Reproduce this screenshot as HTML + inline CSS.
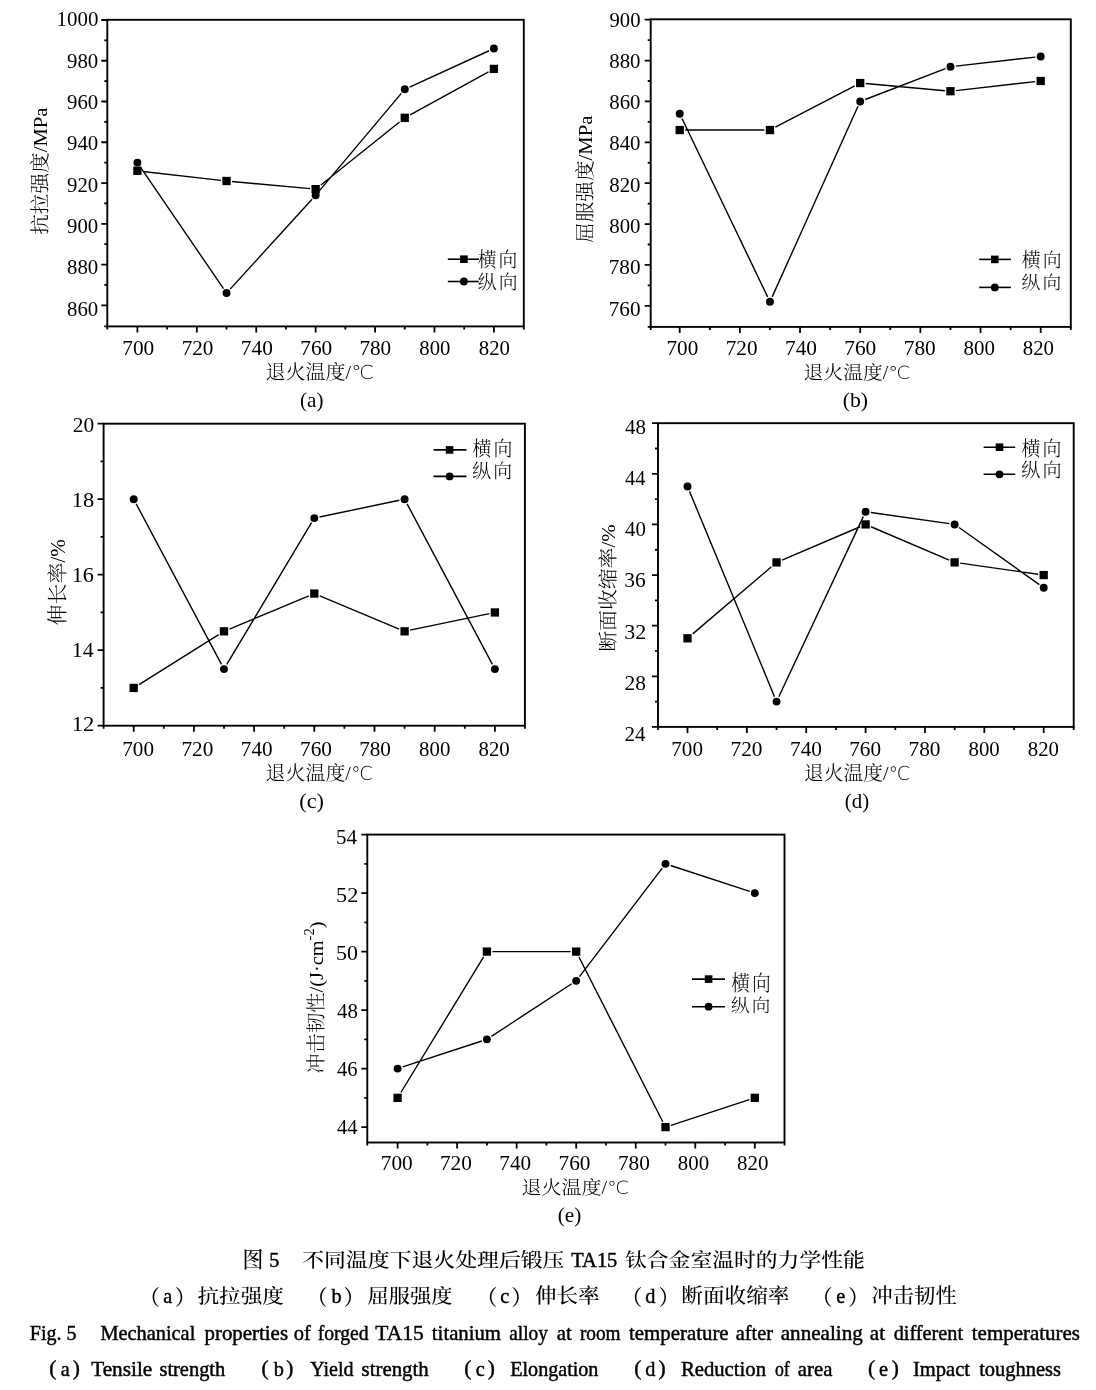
<!DOCTYPE html>
<html><head><meta charset="utf-8"><style>
html,body{margin:0;padding:0;background:#fff;}
svg{display:block;will-change:transform;}
text{fill:#000;}
</style></head><body>
<svg width="1096" height="1390" viewBox="0 0 1096 1390">
<rect x="107.3" y="19.8" width="416.5" height="306.6" fill="none" stroke="#000" stroke-width="1.9"/>
<path d="M107.3 326.4v3M137.4 326.4v6M167.11 326.4v3M196.82 326.4v6M226.53 326.4v3M256.23 326.4v6M285.94 326.4v3M315.65 326.4v6M345.36 326.4v3M375.07 326.4v6M404.77 326.4v3M434.48 326.4v6M464.19 326.4v3M493.9 326.4v6M523.8 326.4v3M107.3 326.4h-3M107.3 305.3h-6M107.3 284.92h-3M107.3 264.54h-6M107.3 244.16h-3M107.3 223.79h-6M107.3 203.41h-3M107.3 183.03h-6M107.3 162.65h-3M107.3 142.27h-6M107.3 121.89h-3M107.3 101.51h-6M107.3 81.14h-3M107.3 60.76h-6M107.3 40.38h-3M107.3 20h-6" stroke="#000" stroke-width="1.8" fill="none"/>
<path d="M142.94 171.43L220.98 180.36M232.07 181.5L310.11 188.64M320.89 184.95L399.53 122.01M410.15 114.87L488.52 71.86M140.42 167.07L223.51 288.66M230.13 289.12L312.05 199.21M319.09 191.16L401.33 93.38M409.64 87.06L489.03 50.75" fill="none" stroke="#000" stroke-width="1.4"/>
<rect x="133.25" y="166.65" width="8.3" height="8.3"/>
<rect x="222.38" y="176.84" width="8.3" height="8.3"/>
<rect x="311.5" y="184.99" width="8.3" height="8.3"/>
<rect x="400.62" y="113.67" width="8.3" height="8.3"/>
<rect x="489.75" y="64.76" width="8.3" height="8.3"/>
<circle cx="137.4" cy="162.65" r="3.95"/>
<circle cx="226.53" cy="293.07" r="3.95"/>
<circle cx="315.65" cy="195.26" r="3.95"/>
<circle cx="404.77" cy="89.29" r="3.95"/>
<circle cx="493.9" cy="48.53" r="3.95"/>
<path d="M447.8 259.2H478.8" stroke="#000" stroke-width="1.6"/>
<rect x="460.1" y="255.4" width="7.6" height="7.6"/>
<path d="M447.8 281.5H478.8" stroke="#000" stroke-width="1.6"/>
<circle cx="463.9" cy="281.5" r="3.9"/>
<rect x="650.7" y="19.3" width="420.1" height="307.6" fill="none" stroke="#000" stroke-width="1.9"/>
<path d="M650.7 326.9v3M679.7 326.9v6M709.78 326.9v3M739.87 326.9v6M769.95 326.9v3M800.03 326.9v6M830.12 326.9v3M860.2 326.9v6M890.28 326.9v3M920.37 326.9v6M950.45 326.9v3M980.53 326.9v6M1010.62 326.9v3M1040.7 326.9v6M1070.8 326.9v3M650.7 326.9h-3M650.7 305.8h-6M650.7 285.36h-3M650.7 264.93h-6M650.7 244.49h-3M650.7 224.06h-6M650.7 203.62h-3M650.7 183.19h-6M650.7 162.75h-3M650.7 142.31h-6M650.7 121.88h-3M650.7 101.44h-6M650.7 81.01h-3M650.7 60.57h-6M650.7 40.14h-3M650.7 19.7h-6" stroke="#000" stroke-width="1.8" fill="none"/>
<path d="M685.25 130.05L764.4 130.05M775.34 127.24L854.81 85.86M865.74 83.55L944.91 90.72M955.99 90.6L1035.16 81.63M682.02 118.53L767.63 296.89M772.15 296.84L858 106.32M865.19 99.52L945.46 68.62M955.77 66.1L1035.38 57.09" fill="none" stroke="#000" stroke-width="1.4"/>
<rect x="675.55" y="125.9" width="8.3" height="8.3"/>
<rect x="765.8" y="125.9" width="8.3" height="8.3"/>
<rect x="856.05" y="78.9" width="8.3" height="8.3"/>
<rect x="946.3" y="87.08" width="8.3" height="8.3"/>
<rect x="1036.55" y="76.86" width="8.3" height="8.3"/>
<circle cx="679.7" cy="113.7" r="3.95"/>
<circle cx="769.95" cy="301.71" r="3.95"/>
<circle cx="860.2" cy="101.44" r="3.95"/>
<circle cx="950.45" cy="66.7" r="3.95"/>
<circle cx="1040.7" cy="56.48" r="3.95"/>
<path d="M979.2 259.4H1010.9" stroke="#000" stroke-width="1.6"/>
<rect x="991" y="255.6" width="7.6" height="7.6"/>
<path d="M979.2 287.4H1010.9" stroke="#000" stroke-width="1.6"/>
<circle cx="994.8" cy="287.4" r="3.9"/>
<rect x="103.6" y="423.7" width="421.3" height="302" fill="none" stroke="#000" stroke-width="1.9"/>
<path d="M103.6 725.7v3M133.7 725.7v6M163.8 725.7v3M193.9 725.7v6M224 725.7v3M254.1 725.7v6M284.2 725.7v3M314.3 725.7v6M344.4 725.7v3M374.5 725.7v6M404.6 725.7v3M434.7 725.7v6M464.8 725.7v3M494.9 725.7v6M524.9 725.7v3M103.6 725.7h-6M103.6 687.95h-3M103.6 650.2h-6M103.6 612.45h-3M103.6 574.7h-6M103.6 536.95h-3M103.6 499.2h-6M103.6 461.45h-3M103.6 423.7h-6" stroke="#000" stroke-width="1.8" fill="none"/>
<path d="M139.04 684.6L218.66 634.67M229.44 629.05L308.86 595.85M319.74 595.85L399.16 629.05M410.12 630.17L489.38 613.6M136.21 503.92L221.49 664.35M226.75 664.48L311.55 522.67M319.54 516.98L399.36 500.29M407.11 503.92L492.39 664.35" fill="none" stroke="#000" stroke-width="1.4"/>
<rect x="129.55" y="683.8" width="8.3" height="8.3"/>
<rect x="219.85" y="627.18" width="8.3" height="8.3"/>
<rect x="310.15" y="589.43" width="8.3" height="8.3"/>
<rect x="400.45" y="627.18" width="8.3" height="8.3"/>
<rect x="490.75" y="608.3" width="8.3" height="8.3"/>
<circle cx="133.7" cy="499.2" r="3.95"/>
<circle cx="224" cy="669.08" r="3.95"/>
<circle cx="314.3" cy="518.08" r="3.95"/>
<circle cx="404.6" cy="499.2" r="3.95"/>
<circle cx="494.9" cy="669.08" r="3.95"/>
<path d="M433.5 449.9H466.4" stroke="#000" stroke-width="1.6"/>
<rect x="445.8" y="446.1" width="7.6" height="7.6"/>
<path d="M433.5 476.4H466.4" stroke="#000" stroke-width="1.6"/>
<circle cx="449.6" cy="476.4" r="3.9"/>
<rect x="658" y="423.2" width="415.7" height="303.7" fill="none" stroke="#000" stroke-width="1.9"/>
<path d="M658 726.9v3M687.5 726.9v6M717.18 726.9v3M746.87 726.9v6M776.55 726.9v3M806.23 726.9v6M835.92 726.9v3M865.6 726.9v6M895.28 726.9v3M924.97 726.9v6M954.65 726.9v3M984.33 726.9v6M1014.02 726.9v3M1043.7 726.9v6M1073.7 726.9v3M658 726.9h-6M658 701.59h-3M658 676.28h-6M658 650.97h-3M658 625.67h-6M658 600.36h-3M658 575.05h-6M658 549.74h-3M658 524.43h-6M658 499.12h-3M658 473.82h-6M658 448.51h-3M658 423.2h-6" stroke="#000" stroke-width="1.8" fill="none"/>
<path d="M692.72 633.87L771.33 566.84M781.99 560.08L860.16 526.75M871.04 526.75L949.21 560.08M960.19 563.18L1038.16 574.26M689.55 491.41L774.5 696.65M778.82 696.75L863.33 516.62M870.9 512.53L949.35 523.68M959.01 527.53L1039.34 584.61" fill="none" stroke="#000" stroke-width="1.4"/>
<rect x="683.35" y="634.17" width="8.3" height="8.3"/>
<rect x="772.4" y="558.25" width="8.3" height="8.3"/>
<rect x="861.45" y="520.28" width="8.3" height="8.3"/>
<rect x="950.5" y="558.25" width="8.3" height="8.3"/>
<rect x="1039.55" y="570.9" width="8.3" height="8.3"/>
<circle cx="687.5" cy="486.47" r="3.95"/>
<circle cx="776.55" cy="701.59" r="3.95"/>
<circle cx="865.6" cy="511.78" r="3.95"/>
<circle cx="954.65" cy="524.43" r="3.95"/>
<circle cx="1043.7" cy="587.7" r="3.95"/>
<path d="M983.6 447.2H1015.2" stroke="#000" stroke-width="1.6"/>
<rect x="995.7" y="443.4" width="7.6" height="7.6"/>
<path d="M983.6 474.3H1015.2" stroke="#000" stroke-width="1.6"/>
<circle cx="999.5" cy="474.3" r="3.9"/>
<rect x="367.3" y="834.6" width="417.2" height="307.9" fill="none" stroke="#000" stroke-width="1.9"/>
<path d="M367.3 1142.5v3M397.6 1142.5v6M427.37 1142.5v3M457.13 1142.5v6M486.9 1142.5v3M516.67 1142.5v6M546.43 1142.5v3M576.2 1142.5v6M605.97 1142.5v3M635.73 1142.5v6M665.5 1142.5v3M695.27 1142.5v6M725.03 1142.5v3M754.8 1142.5v6M784.5 1142.5v3M367.3 1127.1h-6M367.3 1097.85h-3M367.3 1068.6h-6M367.3 1039.35h-3M367.3 1010.1h-6M367.3 980.85h-3M367.3 951.6h-6M367.3 922.35h-3M367.3 893.1h-6M367.3 863.85h-3M367.3 834.6h-6" stroke="#000" stroke-width="1.8" fill="none"/>
<path d="M400.86 1092.51L483.64 956.94M492.45 951.6L570.65 951.6M578.95 957L662.75 1121.7M670.98 1125.3L749.32 1099.65M402.68 1066.93L481.82 1041.02M491.38 1036.42L571.72 983.78M579.45 976.6L662.25 868.1M670.58 865.52L749.72 891.43" fill="none" stroke="#000" stroke-width="1.4"/>
<rect x="393.45" y="1093.7" width="8.3" height="8.3"/>
<rect x="482.75" y="947.45" width="8.3" height="8.3"/>
<rect x="572.05" y="947.45" width="8.3" height="8.3"/>
<rect x="661.35" y="1122.95" width="8.3" height="8.3"/>
<rect x="750.65" y="1093.7" width="8.3" height="8.3"/>
<circle cx="397.6" cy="1068.6" r="3.95"/>
<circle cx="486.9" cy="1039.35" r="3.95"/>
<circle cx="576.2" cy="980.85" r="3.95"/>
<circle cx="665.5" cy="863.85" r="3.95"/>
<circle cx="754.8" cy="893.1" r="3.95"/>
<path d="M692 979.1H725" stroke="#000" stroke-width="1.6"/>
<rect x="704.8" y="975.3" width="7.6" height="7.6"/>
<path d="M692 1006.7H725" stroke="#000" stroke-width="1.6"/>
<circle cx="708.6" cy="1006.7" r="3.9"/>
<text transform="translate(56.5 26.25) scale(0.9882 1)" style='font-family:"Liberation Serif", serif;font-size:21.19px'>1000</text>
<text transform="translate(67 67.54) scale(0.9823 1)" style='font-family:"Liberation Serif", serif;font-size:21.19px'>980</text>
<text transform="translate(67 109.07) scale(0.9823 1)" style='font-family:"Liberation Serif", serif;font-size:21.19px'>960</text>
<text transform="translate(67 150.36) scale(0.9823 1)" style='font-family:"Liberation Serif", serif;font-size:21.19px'>940</text>
<text transform="translate(67 191.64) scale(0.9823 1)" style='font-family:"Liberation Serif", serif;font-size:21.19px'>920</text>
<text transform="translate(67 233.18) scale(0.9823 1)" style='font-family:"Liberation Serif", serif;font-size:21.19px'>900</text>
<text transform="translate(67 274.46) scale(0.9830 1)" style='font-family:"Liberation Serif", serif;font-size:21.19px'>880</text>
<text transform="translate(67 315.75) scale(0.9830 1)" style='font-family:"Liberation Serif", serif;font-size:21.19px'>860</text>
<text transform="translate(122.25 355) scale(1.0073 1)" style='font-family:"Liberation Serif", serif;font-size:21.19px'>700</text>
<text x="181.67" y="355" style='font-family:"Liberation Serif", serif;font-size:21.19px'>720</text>
<text transform="translate(240.83 355) scale(1.0076 1)" style='font-family:"Liberation Serif", serif;font-size:21.19px'>740</text>
<text transform="translate(300.25 355) scale(1.0077 1)" style='font-family:"Liberation Serif", serif;font-size:21.19px'>760</text>
<text x="359.42" y="355" style='font-family:"Liberation Serif", serif;font-size:21.19px'>780</text>
<text transform="translate(419.33 355) scale(0.9782 1)" style='font-family:"Liberation Serif", serif;font-size:21.19px'>800</text>
<text transform="translate(478.75 355) scale(0.9826 1)" style='font-family:"Liberation Serif", serif;font-size:21.19px'>820</text>
<text transform="translate(265.5 379.06) scale(1.0392 1)" style='font-family:"Liberation Serif", "Noto Serif CJK SC", serif;font-size:19.27px;font-weight:300'>退火温度/<tspan font-family="DejaVu Sans, sans-serif" font-weight="200">℃</tspan></text>
<text transform="translate(300 407) scale(1.0285 1)" style='font-family:"Liberation Serif", serif;font-size:20.55px'>(a)</text>
<text transform="translate(47.17 234.75) rotate(-90) scale(1.0717 1)" style='font-family:"Liberation Serif", "Noto Serif CJK SC", serif;font-size:19.25px;font-weight:300'>抗拉强度/MPa</text>
<text transform="translate(477.75 266.85) scale(0.9083 1)" style='font-family:"Liberation Serif", "Noto Serif CJK SC", serif;font-size:20.72px;font-weight:300;letter-spacing:2.2px'>横向</text>
<text transform="translate(477.75 288.6) scale(0.9612 1)" style='font-family:"Liberation Serif", "Noto Serif CJK SC", serif;font-size:19.57px;font-weight:300;letter-spacing:2.2px'>纵向</text>
<text transform="translate(609.5 26.5) scale(0.9745 1)" style='font-family:"Liberation Serif", serif;font-size:21.19px'>900</text>
<text transform="translate(609.25 67.82) scale(0.9833 1)" style='font-family:"Liberation Serif", serif;font-size:21.19px'>880</text>
<text transform="translate(609.25 109.14) scale(0.9833 1)" style='font-family:"Liberation Serif", serif;font-size:21.19px'>860</text>
<text transform="translate(609.25 150.46) scale(0.9833 1)" style='font-family:"Liberation Serif", serif;font-size:21.19px'>840</text>
<text transform="translate(609.25 191.79) scale(0.9833 1)" style='font-family:"Liberation Serif", serif;font-size:21.19px'>820</text>
<text transform="translate(609.25 233.11) scale(0.9833 1)" style='font-family:"Liberation Serif", serif;font-size:21.19px'>800</text>
<text x="608.75" y="274.43" style='font-family:"Liberation Serif", serif;font-size:21.19px'>780</text>
<text x="608.75" y="315.75" style='font-family:"Liberation Serif", serif;font-size:21.19px'>760</text>
<text transform="translate(666.5 355) scale(0.9988 1)" style='font-family:"Liberation Serif", serif;font-size:21.19px'>700</text>
<text x="725.75" y="355" style='font-family:"Liberation Serif", serif;font-size:21.19px'>720</text>
<text transform="translate(785 355) scale(1.0073 1)" style='font-family:"Liberation Serif", serif;font-size:21.19px'>740</text>
<text transform="translate(844.25 355) scale(1.0075 1)" style='font-family:"Liberation Serif", serif;font-size:21.19px'>760</text>
<text transform="translate(903.75 355) scale(1.0073 1)" style='font-family:"Liberation Serif", serif;font-size:21.19px'>780</text>
<text transform="translate(963.5 355) scale(0.9878 1)" style='font-family:"Liberation Serif", serif;font-size:21.19px'>800</text>
<text transform="translate(1022.75 355) scale(0.9833 1)" style='font-family:"Liberation Serif", serif;font-size:21.19px'>820</text>
<text transform="translate(803.5 378.82) scale(1.0862 1)" style='font-family:"Liberation Serif", "Noto Serif CJK SC", serif;font-size:18.26px;font-weight:300'>退火温度/<tspan font-family="DejaVu Sans, sans-serif" font-weight="200">℃</tspan></text>
<text transform="translate(842.75 406.75) scale(1.0624 1)" style='font-family:"Liberation Serif", serif;font-size:20.49px'>(b)</text>
<text transform="translate(591.93 243) rotate(-90) scale(1.0440 1)" style='font-family:"Liberation Serif", "Noto Serif CJK SC", serif;font-size:19.79px;font-weight:300'>屈服强度/MPa</text>
<text transform="translate(1021.75 266.6) scale(0.9645 1)" style='font-family:"Liberation Serif", "Noto Serif CJK SC", serif;font-size:19.57px;font-weight:300;letter-spacing:2.2px'>横向</text>
<text transform="translate(1021.5 288.6) scale(1.0118 1)" style='font-family:"Liberation Serif", "Noto Serif CJK SC", serif;font-size:18.63px;font-weight:300;letter-spacing:2.2px'>纵向</text>
<text transform="translate(72.75 432.25) scale(1.0107 1)" style='font-family:"Liberation Serif", serif;font-size:21.19px'>20</text>
<text transform="translate(71.75 506.75) scale(1.0526 1)" style='font-family:"Liberation Serif", serif;font-size:21.19px'>18</text>
<text transform="translate(71.75 581.5) scale(1.0507 1)" style='font-family:"Liberation Serif", serif;font-size:21.19px'>16</text>
<text transform="translate(71.75 656.5) scale(1.0170 1)" style='font-family:"Liberation Serif", serif;font-size:21.57px'>14</text>
<text transform="translate(71.75 731) scale(1.0528 1)" style='font-family:"Liberation Serif", serif;font-size:21.56px'>12</text>
<text x="122.25" y="755.5" style='font-family:"Liberation Serif", serif;font-size:21.19px'>700</text>
<text transform="translate(181.42 755.5) scale(1.0063 1)" style='font-family:"Liberation Serif", serif;font-size:21.19px'>720</text>
<text x="240.83" y="755.5" style='font-family:"Liberation Serif", serif;font-size:21.19px'>740</text>
<text transform="translate(300 755.5) scale(1.0073 1)" style='font-family:"Liberation Serif", serif;font-size:21.19px'>760</text>
<text x="359.17" y="755.5" style='font-family:"Liberation Serif", serif;font-size:21.19px'>780</text>
<text transform="translate(419.08 755.5) scale(0.9835 1)" style='font-family:"Liberation Serif", serif;font-size:21.19px'>800</text>
<text transform="translate(478.5 755.5) scale(0.9830 1)" style='font-family:"Liberation Serif", serif;font-size:21.19px'>820</text>
<text transform="translate(265.5 779.57) scale(1.0583 1)" style='font-family:"Liberation Serif", "Noto Serif CJK SC", serif;font-size:18.88px;font-weight:300'>退火温度/<tspan font-family="DejaVu Sans, sans-serif" font-weight="200">℃</tspan></text>
<text transform="translate(299.25 808.25) scale(1.0727 1)" style='font-family:"Liberation Serif", serif;font-size:20.78px'>(c)</text>
<text transform="translate(65.15 625.5) rotate(-90) scale(1.0385 1)" style='font-family:"Liberation Serif", "Noto Serif CJK SC", serif;font-size:20.23px;font-weight:300'>伸长率/%</text>
<text transform="translate(472.5 456.1) scale(0.9300 1)" style='font-family:"Liberation Serif", "Noto Serif CJK SC", serif;font-size:20.34px;font-weight:300;letter-spacing:2.2px'>横向</text>
<text transform="translate(472.25 478.1) scale(1.0055 1)" style='font-family:"Liberation Serif", "Noto Serif CJK SC", serif;font-size:18.8px;font-weight:300;letter-spacing:2.2px'>纵向</text>
<text transform="translate(625 434) scale(0.9862 1)" style='font-family:"Liberation Serif", serif;font-size:21.19px'>48</text>
<text transform="translate(625 485.25) scale(0.9270 1)" style='font-family:"Liberation Serif", serif;font-size:21.95px'>44</text>
<text transform="translate(625 536.25) scale(0.9862 1)" style='font-family:"Liberation Serif", serif;font-size:21.19px'>40</text>
<text transform="translate(624.25 587.25) scale(1.0112 1)" style='font-family:"Liberation Serif", serif;font-size:21.19px'>36</text>
<text transform="translate(624.25 638.5) scale(1.0410 1)" style='font-family:"Liberation Serif", serif;font-size:21.19px'>32</text>
<text transform="translate(624.5 689.75) scale(1.0110 1)" style='font-family:"Liberation Serif", serif;font-size:21.19px'>28</text>
<text transform="translate(624.5 741) scale(0.9739 1)" style='font-family:"Liberation Serif", serif;font-size:21.56px'>24</text>
<text transform="translate(671.25 755.5) scale(0.9988 1)" style='font-family:"Liberation Serif", serif;font-size:21.19px'>700</text>
<text transform="translate(730.5 755.5) scale(1.0073 1)" style='font-family:"Liberation Serif", serif;font-size:21.19px'>720</text>
<text transform="translate(790 755.5) scale(1.0073 1)" style='font-family:"Liberation Serif", serif;font-size:21.19px'>740</text>
<text x="849.25" y="755.5" style='font-family:"Liberation Serif", serif;font-size:21.19px'>760</text>
<text transform="translate(908.5 755.5) scale(1.0073 1)" style='font-family:"Liberation Serif", serif;font-size:21.19px'>780</text>
<text transform="translate(968.5 755.5) scale(0.9830 1)" style='font-family:"Liberation Serif", serif;font-size:21.19px'>800</text>
<text transform="translate(1027.75 755.5) scale(0.9826 1)" style='font-family:"Liberation Serif", serif;font-size:21.19px'>820</text>
<text transform="translate(804 779.57) scale(1.0457 1)" style='font-family:"Liberation Serif", "Noto Serif CJK SC", serif;font-size:18.88px;font-weight:300'>退火温度/<tspan font-family="DejaVu Sans, sans-serif" font-weight="200">℃</tspan></text>
<text transform="translate(844.75 808) scale(0.9796 1)" style='font-family:"Liberation Serif", serif;font-size:21.34px'>(d)</text>
<text transform="translate(614.5 651.75) rotate(-90) scale(1.0809 1)" style='font-family:"Liberation Serif", "Noto Serif CJK SC", serif;font-size:19.3px;font-weight:300'>断面收缩率/%</text>
<text transform="translate(1021.5 456.35) scale(0.9246 1)" style='font-family:"Liberation Serif", "Noto Serif CJK SC", serif;font-size:20.5px;font-weight:300;letter-spacing:2.2px'>横向</text>
<text transform="translate(1021.25 477.35) scale(1.0070 1)" style='font-family:"Liberation Serif", "Noto Serif CJK SC", serif;font-size:18.97px;font-weight:300;letter-spacing:2.2px'>纵向</text>
<text transform="translate(336 844.25) scale(0.9782 1)" style='font-family:"Liberation Serif", serif;font-size:21.56px'>54</text>
<text transform="translate(336 902) scale(1.0514 1)" style='font-family:"Liberation Serif", serif;font-size:21.19px'>52</text>
<text transform="translate(336 960) scale(1.0355 1)" style='font-family:"Liberation Serif", serif;font-size:21.19px'>50</text>
<text transform="translate(337 1018) scale(0.9861 1)" style='font-family:"Liberation Serif", serif;font-size:21.19px'>48</text>
<text transform="translate(337 1075.75) scale(0.9732 1)" style='font-family:"Liberation Serif", serif;font-size:21.19px'>46</text>
<text transform="translate(337 1134) scale(0.9264 1)" style='font-family:"Liberation Serif", serif;font-size:21.95px'>44</text>
<text transform="translate(380.75 1170.25) scale(1.0073 1)" style='font-family:"Liberation Serif", serif;font-size:21.19px'>700</text>
<text transform="translate(439.92 1170.25) scale(1.0062 1)" style='font-family:"Liberation Serif", serif;font-size:21.19px'>720</text>
<text x="499.33" y="1170.25" style='font-family:"Liberation Serif", serif;font-size:21.19px'>740</text>
<text transform="translate(558.5 1170.25) scale(1.0062 1)" style='font-family:"Liberation Serif", serif;font-size:21.19px'>760</text>
<text transform="translate(617.92 1170.25) scale(1.0061 1)" style='font-family:"Liberation Serif", serif;font-size:21.19px'>780</text>
<text transform="translate(677.83 1170.25) scale(0.9828 1)" style='font-family:"Liberation Serif", serif;font-size:21.19px'>800</text>
<text transform="translate(737 1170.25) scale(0.9877 1)" style='font-family:"Liberation Serif", serif;font-size:21.19px'>820</text>
<text transform="translate(521.5 1193.82) scale(1.0765 1)" style='font-family:"Liberation Serif", "Noto Serif CJK SC", serif;font-size:18.57px;font-weight:300'>退火温度/<tspan font-family="DejaVu Sans, sans-serif" font-weight="200">℃</tspan></text>
<text transform="translate(557.75 1222.25) scale(1.0267 1)" style='font-family:"Liberation Serif", serif;font-size:20.76px'>(e)</text>
<text transform="translate(322.57 1073.75) rotate(-90) scale(1.0815 1)" style='font-family:"Liberation Serif", "Noto Serif CJK SC", serif;font-size:18.81px;font-weight:300'>冲击韧性/(J·cm<tspan dy="-8.5" font-size="0.72em">-2</tspan><tspan dy="8.5">)</tspan></text>
<text transform="translate(731.25 990.35) scale(0.8962 1)" style='font-family:"Liberation Serif", "Noto Serif CJK SC", serif;font-size:20.89px;font-weight:300;letter-spacing:2.2px'>横向</text>
<text transform="translate(731 1012.35) scale(1.0259 1)" style='font-family:"Liberation Serif", "Noto Serif CJK SC", serif;font-size:18.13px;font-weight:300;letter-spacing:2.2px'>纵向</text>
<text transform="translate(242.5 1266.78) scale(0.9781 1)" style='font-family:"Liberation Serif", "Noto Serif CJK SC", serif;font-size:21.35px;font-weight:300;font-weight:500'>图</text>
<text transform="translate(269.25 1266.5) scale(0.9891 1)" style='font-family:"Liberation Serif", serif;font-size:20.38px;stroke:#000;stroke-width:0.45px'>5</text>
<text transform="translate(302.25 1267.03) scale(1.1369 1)" style='font-family:"Liberation Serif", "Noto Serif CJK SC", serif;font-size:19.23px;font-weight:300;font-weight:500'>不同温度下退火处理后锻压</text>
<text transform="translate(571.25 1266.5) scale(0.9701 1)" style='font-family:"Liberation Serif", serif;font-size:21.11px;stroke:#000;stroke-width:0.45px'>TA15</text>
<text transform="translate(625 1267.03) scale(1.1344 1)" style='font-family:"Liberation Serif", "Noto Serif CJK SC", serif;font-size:19.23px;font-weight:300;font-weight:500'>钛合金室温时的力学性能</text>
<text x="138.85" y="1305.03" style='font-family:"Liberation Serif", "Noto Serif CJK SC", serif;font-size:21.38px;font-weight:300;font-weight:500'>（</text>
<text x="163.25" y="1302.5" style='font-family:"Liberation Serif", serif;font-size:20.3px;stroke:#000;stroke-width:0.45px'>a</text>
<text x="174.65" y="1305.03" style='font-family:"Liberation Serif", "Noto Serif CJK SC", serif;font-size:21.38px;font-weight:300;font-weight:500'>）</text>
<text transform="translate(197.5 1303.28) scale(1.0948 1)" style='font-family:"Liberation Serif", "Noto Serif CJK SC", serif;font-size:19.73px;font-weight:300;font-weight:500'>抗拉强度</text>
<text x="306.35" y="1305.03" style='font-family:"Liberation Serif", "Noto Serif CJK SC", serif;font-size:21.38px;font-weight:300;font-weight:500'>（</text>
<text x="331.5" y="1302.5" style='font-family:"Liberation Serif", serif;font-size:20.3px;stroke:#000;stroke-width:0.45px'>b</text>
<text x="343.4" y="1305.03" style='font-family:"Liberation Serif", "Noto Serif CJK SC", serif;font-size:21.38px;font-weight:300;font-weight:500'>）</text>
<text transform="translate(367.5 1303.28) scale(1.0768 1)" style='font-family:"Liberation Serif", "Noto Serif CJK SC", serif;font-size:19.72px;font-weight:300;font-weight:500'>屈服强度</text>
<text x="476.1" y="1305.03" style='font-family:"Liberation Serif", "Noto Serif CJK SC", serif;font-size:21.38px;font-weight:300;font-weight:500'>（</text>
<text x="500.25" y="1302.5" style='font-family:"Liberation Serif", serif;font-size:20.3px;stroke:#000;stroke-width:0.45px'>c</text>
<text x="511.15" y="1305.03" style='font-family:"Liberation Serif", "Noto Serif CJK SC", serif;font-size:21.38px;font-weight:300;font-weight:500'>）</text>
<text transform="translate(535 1303.03) scale(1.0695 1)" style='font-family:"Liberation Serif", "Noto Serif CJK SC", serif;font-size:20.15px;font-weight:300;font-weight:500'>伸长率</text>
<text x="621.1" y="1305.03" style='font-family:"Liberation Serif", "Noto Serif CJK SC", serif;font-size:21.38px;font-weight:300;font-weight:500'>（</text>
<text x="645.25" y="1302.5" style='font-family:"Liberation Serif", serif;font-size:20.3px;stroke:#000;stroke-width:0.45px'>d</text>
<text x="658.4" y="1305.03" style='font-family:"Liberation Serif", "Noto Serif CJK SC", serif;font-size:21.38px;font-weight:300;font-weight:500'>）</text>
<text transform="translate(681.25 1303.28) scale(1.0757 1)" style='font-family:"Liberation Serif", "Noto Serif CJK SC", serif;font-size:20.15px;font-weight:300;font-weight:500'>断面收缩率</text>
<text x="811.35" y="1305.03" style='font-family:"Liberation Serif", "Noto Serif CJK SC", serif;font-size:21.38px;font-weight:300;font-weight:500'>（</text>
<text x="836.25" y="1302.5" style='font-family:"Liberation Serif", serif;font-size:20.3px;stroke:#000;stroke-width:0.45px'>e</text>
<text x="847.9" y="1305.03" style='font-family:"Liberation Serif", "Noto Serif CJK SC", serif;font-size:21.38px;font-weight:300;font-weight:500'>）</text>
<text transform="translate(871.5 1303.03) scale(1.0442 1)" style='font-family:"Liberation Serif", "Noto Serif CJK SC", serif;font-size:20.41px;font-weight:300;font-weight:500'>冲击韧性</text>
<text transform="translate(29.75 1339.5) scale(0.9881 1)" style='font-family:"Liberation Serif", serif;font-size:20.3px;stroke:#000;stroke-width:0.45px'>Fig. 5</text>
<text transform="translate(100.45 1339.5) scale(1.0021 1)" style='font-family:"Liberation Serif", serif;font-size:20.3px;stroke:#000;stroke-width:0.45px'>Mechanical</text>
<text transform="translate(204.55 1339.5) scale(1.0293 1)" style='font-family:"Liberation Serif", serif;font-size:20.3px;stroke:#000;stroke-width:0.45px'>properties</text>
<text transform="translate(293.85 1339.5) scale(1.0062 1)" style='font-family:"Liberation Serif", serif;font-size:20.3px;stroke:#000;stroke-width:0.45px'>of</text>
<text transform="translate(317.65 1339.5) scale(0.9673 1)" style='font-family:"Liberation Serif", serif;font-size:20.3px;stroke:#000;stroke-width:0.45px'>forged</text>
<text transform="translate(375.25 1339.5) scale(1.0615 1)" style='font-family:"Liberation Serif", serif;font-size:20.3px;stroke:#000;stroke-width:0.45px'>TA15</text>
<text transform="translate(431.85 1339.5) scale(1.0231 1)" style='font-family:"Liberation Serif", serif;font-size:20.3px;stroke:#000;stroke-width:0.45px'>titanium</text>
<text transform="translate(509.3 1339.5) scale(0.9514 1)" style='font-family:"Liberation Serif", serif;font-size:20.3px;stroke:#000;stroke-width:0.45px'>alloy</text>
<text transform="translate(556.65 1339.5) scale(1.0291 1)" style='font-family:"Liberation Serif", serif;font-size:20.3px;stroke:#000;stroke-width:0.45px'>at</text>
<text transform="translate(579.9 1339.5) scale(0.9503 1)" style='font-family:"Liberation Serif", serif;font-size:20.3px;stroke:#000;stroke-width:0.45px'>room</text>
<text transform="translate(629 1339.5) scale(1.0286 1)" style='font-family:"Liberation Serif", serif;font-size:20.3px;stroke:#000;stroke-width:0.45px'>temperature</text>
<text transform="translate(735.7 1339.5) scale(1.0055 1)" style='font-family:"Liberation Serif", serif;font-size:20.3px;stroke:#000;stroke-width:0.45px'>after</text>
<text transform="translate(780.7 1339.5) scale(1.0410 1)" style='font-family:"Liberation Serif", serif;font-size:20.3px;stroke:#000;stroke-width:0.45px'>annealing</text>
<text transform="translate(869.85 1339.5) scale(1.0400 1)" style='font-family:"Liberation Serif", serif;font-size:20.3px;stroke:#000;stroke-width:0.45px'>at</text>
<text x="893.65" y="1339.5" style='font-family:"Liberation Serif", serif;font-size:20.3px;stroke:#000;stroke-width:0.45px'>different</text>
<text transform="translate(971.8 1339.5) scale(1.0313 1)" style='font-family:"Liberation Serif", serif;font-size:20.3px;stroke:#000;stroke-width:0.45px'>temperatures</text>
<text x="49.25" y="1375" style='font-family:"Liberation Serif", serif;font-size:21.35px;stroke:#000;stroke-width:0.45px'>(</text>
<text x="60.75" y="1375.5" style='font-family:"Liberation Serif", serif;font-size:20.3px;stroke:#000;stroke-width:0.45px'>a</text>
<text x="72.75" y="1375" style='font-family:"Liberation Serif", serif;font-size:21.36px;stroke:#000;stroke-width:0.45px'>)</text>
<text transform="translate(91.15 1375.8) scale(1.0482 1)" style='font-family:"Liberation Serif", serif;font-size:20.3px;stroke:#000;stroke-width:0.45px'>Tensile</text>
<text transform="translate(159.45 1375.8) scale(1.0063 1)" style='font-family:"Liberation Serif", serif;font-size:20.3px;stroke:#000;stroke-width:0.45px'>strength</text>
<text x="261.5" y="1375" style='font-family:"Liberation Serif", serif;font-size:21.34px;stroke:#000;stroke-width:0.45px'>(</text>
<text x="273.75" y="1375.5" style='font-family:"Liberation Serif", serif;font-size:20.3px;stroke:#000;stroke-width:0.45px'>b</text>
<text x="286.25" y="1375" style='font-family:"Liberation Serif", serif;font-size:21.35px;stroke:#000;stroke-width:0.45px'>)</text>
<text transform="translate(310.15 1375.8) scale(0.9887 1)" style='font-family:"Liberation Serif", serif;font-size:20.3px;stroke:#000;stroke-width:0.45px'>Yield</text>
<text transform="translate(361.6 1375.8) scale(1.0257 1)" style='font-family:"Liberation Serif", serif;font-size:20.3px;stroke:#000;stroke-width:0.45px'>strength</text>
<text x="464.25" y="1375" style='font-family:"Liberation Serif", serif;font-size:21.35px;stroke:#000;stroke-width:0.45px'>(</text>
<text x="475.75" y="1375.5" style='font-family:"Liberation Serif", serif;font-size:20.3px;stroke:#000;stroke-width:0.45px'>c</text>
<text x="487.75" y="1375" style='font-family:"Liberation Serif", serif;font-size:21.36px;stroke:#000;stroke-width:0.45px'>)</text>
<text transform="translate(510.25 1375.8) scale(0.9904 1)" style='font-family:"Liberation Serif", serif;font-size:20.3px;stroke:#000;stroke-width:0.45px'>Elongation</text>
<text x="634.25" y="1375" style='font-family:"Liberation Serif", serif;font-size:21.35px;stroke:#000;stroke-width:0.45px'>(</text>
<text x="645.25" y="1375.5" style='font-family:"Liberation Serif", serif;font-size:20.3px;stroke:#000;stroke-width:0.45px'>d</text>
<text x="658.5" y="1375" style='font-family:"Liberation Serif", serif;font-size:21.35px;stroke:#000;stroke-width:0.45px'>)</text>
<text transform="translate(680.9 1375.8) scale(1.0212 1)" style='font-family:"Liberation Serif", serif;font-size:20.3px;stroke:#000;stroke-width:0.45px'>Reduction</text>
<text transform="translate(775 1375.8) scale(0.8742 1)" style='font-family:"Liberation Serif", serif;font-size:20.3px;stroke:#000;stroke-width:0.45px'>of</text>
<text transform="translate(797.85 1375.8) scale(1.0237 1)" style='font-family:"Liberation Serif", serif;font-size:20.3px;stroke:#000;stroke-width:0.45px'>area</text>
<text x="868" y="1375" style='font-family:"Liberation Serif", serif;font-size:21.34px;stroke:#000;stroke-width:0.45px'>(</text>
<text x="879" y="1375.5" style='font-family:"Liberation Serif", serif;font-size:20.3px;stroke:#000;stroke-width:0.45px'>e</text>
<text x="891.75" y="1375" style='font-family:"Liberation Serif", serif;font-size:21.36px;stroke:#000;stroke-width:0.45px'>)</text>
<text transform="translate(913 1375.8) scale(1.0118 1)" style='font-family:"Liberation Serif", serif;font-size:20.3px;stroke:#000;stroke-width:0.45px'>Impact</text>
<text transform="translate(979.2 1375.8) scale(1.0063 1)" style='font-family:"Liberation Serif", serif;font-size:20.3px;stroke:#000;stroke-width:0.45px'>toughness</text>
</svg>
</body></html>
